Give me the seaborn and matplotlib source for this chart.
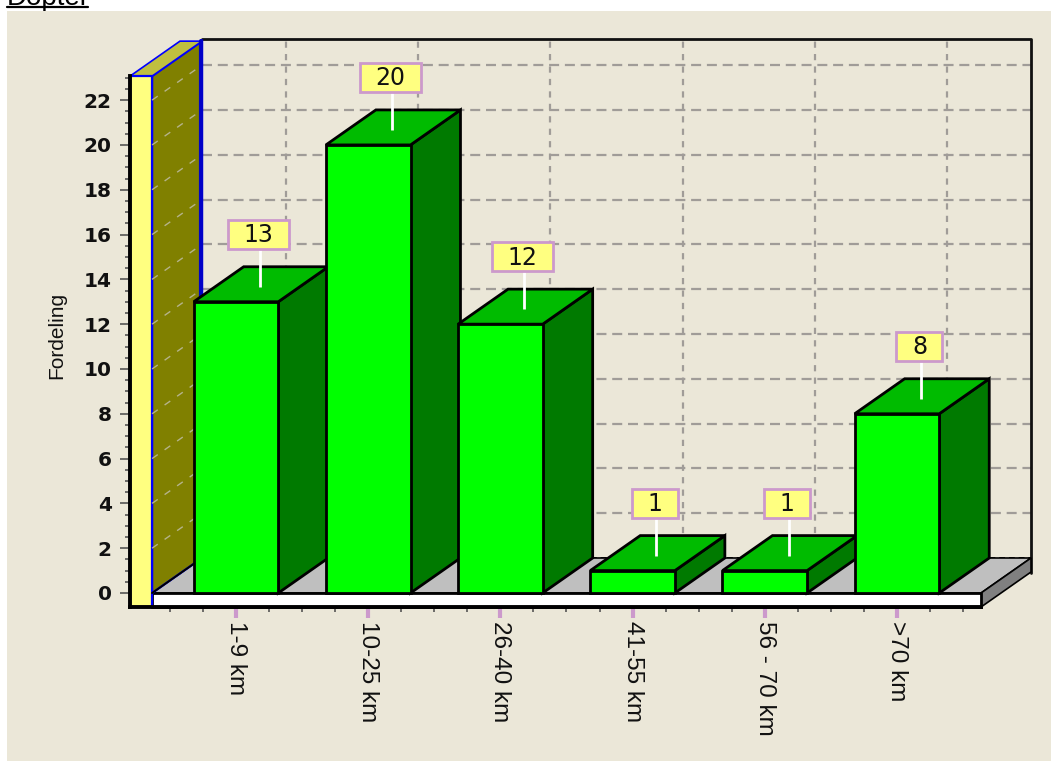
import numpy as np
import matplotlib
matplotlib.use('Agg')
import matplotlib.pyplot as plt
from matplotlib.lines import Line2D
from matplotlib.patches import Polygon, Rectangle
from matplotlib.ticker import FixedLocator
import seaborn as sns

# data
categories = ['1-9 km', '10-25 km', '26-40 km', '41-55 km', '56 - 70 km', '>70 km']
values = [13, 20, 12, 1, 1, 8]
y_ticks = [0, 2, 4, 6, 8, 10, 12, 14, 16, 18, 20, 22]
y_label = 'Fordeling'
page_title = 'Dopter'

# colours
PANEL = '#EBE7D8'
FRONT = '#00FF00'
TOP = '#00BB00'
SIDE = '#007A00'
WALL_FRONT = '#FFFF80'
WALL_TOP = '#BFBF40'
WALL_SIDE = '#808000'
BLUE = '#0000FF'
PLUM = '#CC99CC'
GRID = '#A09C98'

sns.set_theme(style='white')
plt.rcParams['font.family'] = ['Liberation Sans', 'DejaVu Sans']

W, H = 1051, 761
fig = plt.figure(figsize=(W / 100, H / 100), dpi=100, facecolor='white')
fig.add_artist(Rectangle((7 / W, 0), 1 - 7 / W, 1 - 11 / H, transform=fig.transFigure,
                         facecolor=PANEL, edgecolor='none', zorder=-5))

# link text at the top, cut off by the picture edge like in the original
fig.text(7 / W, 1 - 5 / H, page_title, fontsize=20, color='black', ha='left', va='baseline')
fig.add_artist(Line2D([7 / W, 88 / W], [1 - 7 / H, 1 - 7 / H], color='black', lw=1.6))

ax = fig.add_axes([130 / W, (H - 607) / H, 910 / W, 577 / H])
ax.patch.set_alpha(0)

# front faces
sns.barplot(x=categories, y=values, color=FRONT, saturation=1, width=0.64,
            edgecolor='black', linewidth=2, ax=ax)

X0, X1 = -0.802, 6.082
Y0, Y1 = -0.625, 25.13
ax.set_xlim(X0, X1)
ax.set_ylim(Y0, Y1)

# depth of the fake 3d box, in data units
DX = 0.378
DY = 1.5625
FLOOR_L, FLOOR_R = -0.635, 5.636
WALL_TOP_Y = 23.07


def poly(points, face, edge='black', lw=1.2, z=1):
    ax.add_patch(Polygon(points, closed=True, facecolor=face, edgecolor=edge,
                         linewidth=lw, zorder=z, clip_on=False, joinstyle='miter'))


dash_h = (0, (4.5, 2.6))
dash_v = (0, (2.8, 2.8))

# back wall grid
grid_right = FLOOR_R + DX
for t in y_ticks[1:]:
    ax.plot([FLOOR_L + DX, grid_right], [t + DY, t + DY], color=GRID, lw=1.6,
            linestyle=dash_h, zorder=0.5)
for i in range(len(categories)):
    ax.plot([i + DX, i + DX], [DY, 23.07 + DY], color=GRID, lw=1.6, linestyle=dash_v, zorder=0.5)

# back wall frame
ax.plot([FLOOR_L + DX, grid_right, grid_right], [24.73, 24.73, DY - 0.65], color='#111111', lw=2,
        zorder=0.7, clip_on=False)
ax.plot([FLOOR_L + DX, grid_right], [DY, DY], color='#111111', lw=1.4, linestyle=(0, (3, 2)), zorder=0.7)

# floor
poly([(FLOOR_L, 0), (FLOOR_L + DX, DY), (grid_right, DY), (FLOOR_R, 0)], '#BFBFBF', z=1)
poly([(FLOOR_R, 0), (grid_right, DY), (grid_right, DY + Y0), (FLOOR_R, Y0)], '#808080', z=1)
poly([(FLOOR_L, 0), (FLOOR_R, 0), (FLOOR_R, Y0), (FLOOR_L, Y0)], 'white', z=1.1, lw=2)

# left wall
poly([(FLOOR_L, 0), (FLOOR_L + DX, DY), (FLOOR_L + DX, WALL_TOP_Y + DY), (FLOOR_L, WALL_TOP_Y)],
     WALL_SIDE, edge=BLUE, z=1.2, lw=1.6)
ax.plot([FLOOR_L + DX - 0.006] * 2, [DY - 0.1, WALL_TOP_Y + DY], color='#0000C8', lw=3, zorder=1.3)
ax.plot([FLOOR_L, FLOOR_L + DX], [0, DY], color='black', lw=1.4, zorder=1.35)
poly([(X0, WALL_TOP_Y), (FLOOR_L, WALL_TOP_Y), (FLOOR_L + DX, WALL_TOP_Y + DY),
      (X0 + DX, WALL_TOP_Y + DY)], WALL_TOP, edge=BLUE, z=1.25)
poly([(X0, Y0), (FLOOR_L, Y0), (FLOOR_L, WALL_TOP_Y), (X0, WALL_TOP_Y)], WALL_FRONT, edge=BLUE, z=1.3, lw=1.6)
for t in y_ticks[1:]:
    ax.plot([FLOOR_L, FLOOR_L + DX], [t, t + DY], color='#B5B38A', lw=1, linestyle=(0, (5, 6)), zorder=1.4)

# sides and tops of the bars, drawn left to right so the next bar covers the last one
for i, bar in enumerate(ax.patches[:len(values)]):
    l, r = bar.get_x(), bar.get_x() + bar.get_width()
    h = bar.get_height()
    z = 3 + i
    poly([(r, 0), (r + DX, DY), (r + DX, h + DY), (r, h)], SIDE, z=z, lw=2)
    poly([(l, h), (l + DX, h + DY), (r + DX, h + DY), (r, h)], TOP, z=z, lw=2)
    bar.set_zorder(z + 0.5)

    # value flag
    label = str(int(h))
    cx = i + 0.17
    w = (46 if len(label) == 1 else 61) / 132.2
    bh = 29 / 22.4
    cy = h + 3.0
    ax.plot([i + 0.18, i + 0.18], [h + 0.67, cy], color='white', lw=2, zorder=20, solid_capstyle='butt')
    ax.add_patch(Rectangle((cx - w / 2, cy - bh / 2), w, bh, facecolor=WALL_FRONT, edgecolor=PLUM,
                           linewidth=2, zorder=21))
    ax.text(cx, cy - 0.03, label, ha='center', va='center', fontsize=17, color='#111111',
            family='DejaVu Sans', zorder=22)

# axes
sns.despine(ax=ax, top=True, right=True)
for name, bounds in (('left', (Y0, WALL_TOP_Y)), ('bottom', (X0, FLOOR_R))):
    ax.spines[name].set_bounds(*bounds)
    ax.spines[name].set_linewidth(2.8)
    ax.spines[name].set_color('black')
    ax.spines[name].set_zorder(2)

ax.set_yticks(y_ticks)
ax.yaxis.set_minor_locator(FixedLocator(np.arange(0, 23.1, 0.5)))
ax.xaxis.set_minor_locator(FixedLocator(np.arange(-0.5, 5.6, 0.25)))
ax.tick_params(axis='y', which='major', left=True, length=7.2, width=1.2, color='#555555', pad=6)
ax.tick_params(axis='y', which='minor', left=True, length=3.6, width=1.2, color='#555555')
ax.tick_params(axis='x', which='major', bottom=True, length=8, width=3, color=PLUM, pad=2)
ax.tick_params(axis='x', which='minor', bottom=True, length=3.6, width=1.2, color='#555555')

for t in ax.get_yticklabels():
    t.set_family('DejaVu Sans')
    t.set_fontweight('bold')
    t.set_fontsize(14.5)
    t.set_color('#111111')
for t in ax.get_xticklabels():
    t.set_fontsize(17.5)
    t.set_rotation(-90)
    t.set_color('#111111')

ax.set_xlabel('')
ax.set_ylabel(y_label, fontsize=15, color='#111111')
ax.yaxis.set_label_coords(-0.07, 0.471)

fig.savefig('out.png', dpi=100, facecolor='white')
